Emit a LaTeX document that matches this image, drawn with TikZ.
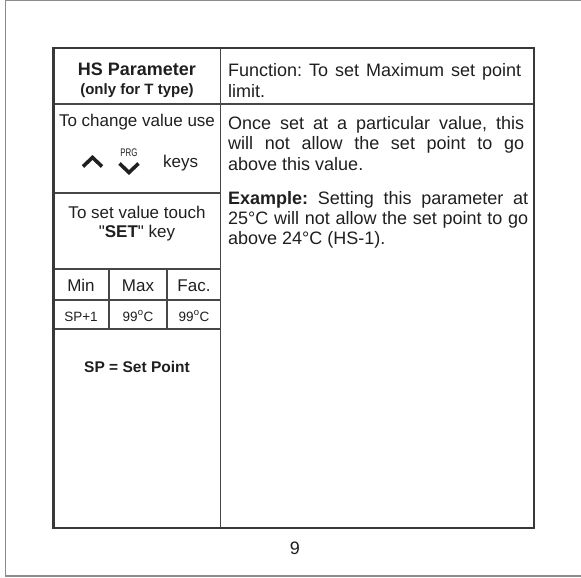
\documentclass[tikz,border=0pt]{standalone}
\usepackage{fontspec}
\usepackage{graphicx}
\setmainfont{Liberation Sans}
\newfontfamily\rawquote{Liberation Sans}
\frenchspacing
\begin{document}
\begin{tikzpicture}[x=1pt,y=-1pt,
  pageframe/.style={draw=black!45, line width=1.3pt},
  tblborder/.style={draw=black!78, line width=2.2pt},
  rulethin/.style={draw=black!72, line width=1.4pt},
  txt/.style={inner sep=0pt, anchor=base, text=black!88},
  txtl/.style={txt, anchor=base west},
  lfont/.style={font=\fontsize{17}{20}\selectfont},
  rfont/.style={font=\fontsize{18}{20}\selectfont},
  chev/.style={draw=black!88, line width=3.6pt, line join=miter, line cap=butt}]
\useasboundingbox (0,0) rectangle (581,578);
\begin{scope}
\clip (0,0) rectangle (581,578);
\draw[pageframe] (5.5,0.8) rectangle (600,576);
\end{scope}
% table
\draw[rulethin] (220.5,48) -- (220.5,528);
\draw[rulethin] (53.5,104) -- (534,104);
\draw[rulethin] (53.5,193) -- (220.5,193);
\draw[rulethin] (53.5,269) -- (220.5,269);
\draw[rulethin] (53.5,300) -- (220.5,300);
\draw[rulethin] (53.5,329) -- (220.5,329);
\draw[rulethin] (109,269) -- (109,329);
\draw[rulethin] (167,269) -- (167,329);
\draw[tblborder] (53.5,48) rectangle (534,528);
% left column
\node[txt, font=\fontsize{18}{20}\bfseries] (hs) at (137,75.5) {HS Parameter};
\node[txt, font=\fontsize{15}{17}\bfseries] (only) at (137,95) {(only for T type)};
\node[txt, lfont] (chg) at (137,126.5) {To change value use};
\draw[chev] (83,166.5) -- (92.5,157.5) -- (102,166.5);
\draw[chev] (119.5,163.5) -- (129,172.5) -- (138.5,163.5);
\node[txt, font=\fontsize{11}{12}\selectfont] (prg) at (129,156.5) {\scalebox{0.72}[1]{PRG}};
\node[txtl, lfont] (keys) at (163,167) {keys};
\node[txt, lfont] (touch) at (137,218) {To set value touch};
\node[txt, lfont] (setkey) at (137,237.5) {{\rawquote"}\textbf{SET}{\rawquote"} key};
\node[txt, lfont] (min) at (81,291.5) {Min};
\node[txt, lfont] (max) at (138,291.5) {Max};
\node[txt, lfont] (fac) at (194,291.5) {Fac.};
\node[txt, font=\fontsize{13.5}{15}\selectfont] (spone) at (81,321) {SP+1};
\node[txt, font=\fontsize{13.5}{15}\selectfont] (maxv) at (138,321) {99\textsuperscript{o}C};
\node[txt, font=\fontsize{13.5}{15}\selectfont] (facv) at (194,321) {99\textsuperscript{o}C};
\node[txt, font=\fontsize{15.5}{17}\bfseries] (spdef) at (137,372.5) {SP = Set Point};
% right column
\node[txtl, rfont] (f1) at (228,77) {\makebox[293pt][s]{Function: To set Maximum set point}};
\node[txtl, rfont] (f2) at (228,97) {limit.};
\node[txtl, rfont] (o1) at (228,129) {\makebox[296pt][s]{Once set at a particular value, this}};
\node[txtl, rfont] (o2) at (228,149.5) {\makebox[296pt][s]{will not allow the set point to go}};
\node[txtl, rfont] (o3) at (228,170) {above this value.};
\node[txtl, rfont] (e1) at (228,204) {\makebox[300pt][s]{\textbf{Example:} Setting this parameter at}};
\node[txtl, rfont] (e2) at (228,224) {\makebox[300pt][s]{25°C will not allow the set point to go}};
\node[txtl, rfont] (e3) at (228,244) {above 24°C (HS-1).};
% page number
\node[txt, font=\fontsize{18}{20}\selectfont] (pg) at (295,554.5) {9};
\end{tikzpicture}
\end{document}
